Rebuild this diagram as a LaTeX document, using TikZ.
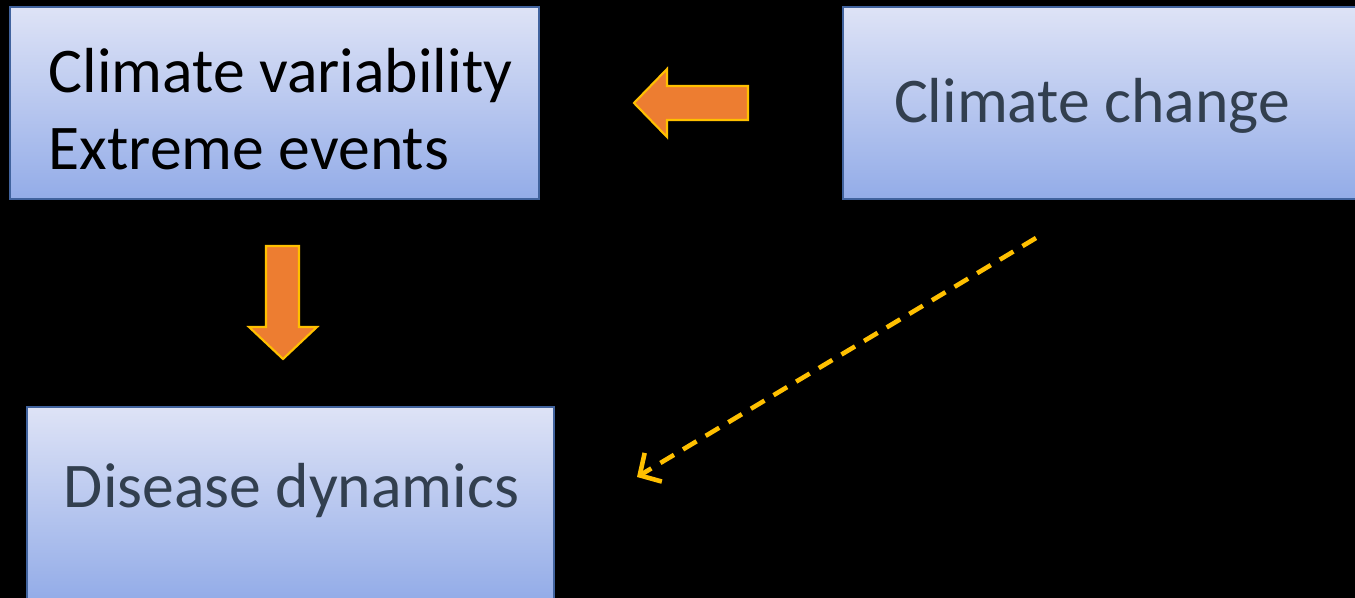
\documentclass[tikz,border=0pt]{standalone}
\usepackage{fontspec}
\setmainfont{Carlito}
\usetikzlibrary{arrows.meta}

\definecolor{boxtop}{HTML}{DEE3F6}
\definecolor{boxbottom}{HTML}{93ACE8}
\definecolor{boxline}{HTML}{41639E}
\definecolor{arrowfill}{HTML}{ED7D31}
\definecolor{arrowline}{HTML}{FFC000}
\definecolor{slatetext}{HTML}{323F4F}

\begin{document}
\begin{tikzpicture}[x=0.01cm,y=-0.01cm,line join=miter]
    \tikzset{
      box/.style={draw=boxline,line width=0.7pt,top color=boxtop,bottom color=boxbottom,
        inner sep=0pt,outer sep=0pt},
      boxlabel/.style={anchor=base,inner sep=0pt,text=slatetext,font=\fontsize{18.1}{21}\selectfont},
      blockarrow/.style={fill=arrowfill,draw=arrowline,line width=0.6pt},
      influence/.style={draw=arrowline,line width=1.3pt,dash pattern=on 4.5pt off 3pt,
        -{Straight Barb[length=4.5pt,width=9.5pt]}}
    }
    \fill[black] (0,0) rectangle (1355,598);
    \clip (0,0) rectangle (1355,598);

    % boxes
    \node[box,minimum width=5.29cm,minimum height=1.92cm] (variability) at (274.5,103) {};
    \node[box,minimum width=5.20cm,minimum height=1.92cm] (change) at (1103,103) {};
    \node[box,minimum width=5.27cm,minimum height=1.93cm] (disease) at (290.5,503.5) {};

    \node[anchor=base west,inner sep=0pt,font=\fontsize{18.1}{21}\selectfont] (variabilitytext) at (48,93) {Climate variability};
    \node[anchor=base west,inner sep=0pt,font=\fontsize{18.1}{21}\selectfont] (extremetext) at (48,170) {Extreme events};
    \node[boxlabel] (changetext) at (1092,123) {Climate change};
    \node[boxlabel] (diseasetext) at (291.5,508) {Disease dynamics};

    % block arrows
    \coordinate (lefttip) at (634,103);
    \coordinate (downtip) at (283,359);
    \draw[blockarrow] (lefttip) -- (667,69) -- (667,86) -- (748,86) -- (748,120)
      -- (667,120) -- (667,137) -- cycle;
    \draw[blockarrow] (downtip) -- (249,327) -- (266,327) -- (266,246) -- (299,246)
      -- (299,327) -- (317,327) -- cycle;

    % dashed link
    \coordinate (influencefrom) at (1036,238);
    \coordinate (influenceto) at (637,477);
    \draw[influence] (influencefrom) -- (influenceto);
\end{tikzpicture}
\end{document}
